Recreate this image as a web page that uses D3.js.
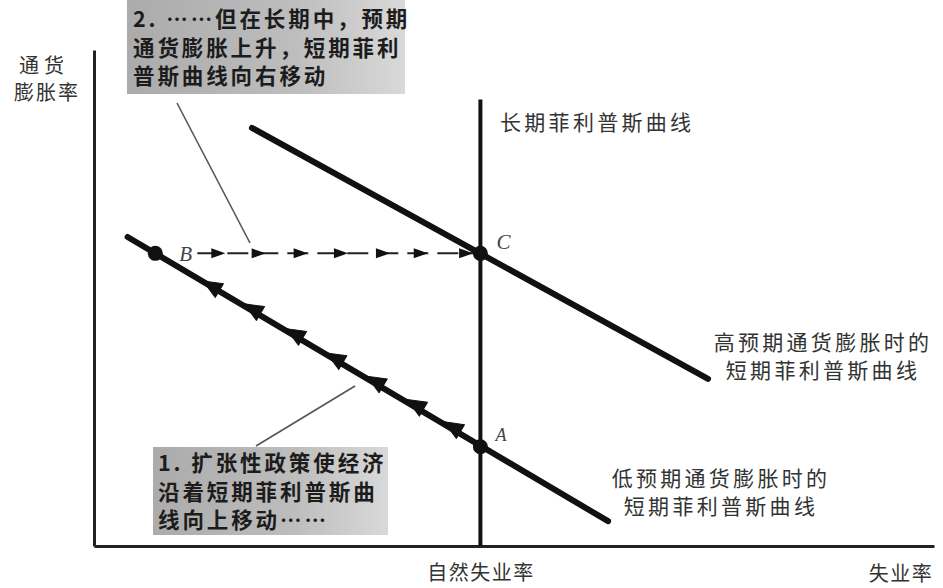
<!DOCTYPE html>
<html><head><meta charset="utf-8">
<script src="https://cdn.jsdelivr.net/npm/d3@7"></script>
<style>body{margin:0;background:#fff}svg{display:block}</style>
</head><body><svg id="c" width="943" height="588"></svg>
<script>
// ---- data (abstract units: unemployment u, inflation p, both 0..100) ----
const uDomain = [0, 100];
const pDomain = [0, 100];
const naturalRate = 46;
const lrpcTop = 90;
const lowSRPC = [{u: 4, p: 62.3}, {u: 61.2, p: 5}];
const highSRPC = [{u: 18.8, p: 84.3}, {u: 73.1, p: 33.7}];
const pointNames = ["B", "C", "A"];
const pointU = [7.3, 46, 46];
const pointP = [59, 59, 20];
const dashPath = [{u: 12.3, p: 59}, {u: 45.3, p: 59}];
const dashArrowU = [14.8, 19.6, 24.6, 29.4, 34.4, 38.9, 44.3];
const moveArrowU = [14.0, 18.9, 23.9, 28.7, 33.5, 38.3, 42.7];
const moveArrowP = [52.4, 47.8, 42.8, 37.9, 33.2, 28.5, 24.0];
const xTickLabels = ["自然失业率"];
const yLabelLines = ["通货", "膨胀率"];
const note2Lines = ["2. ……但在长期中，预期", "通货膨胀上升，短期菲利", "普斯曲线向右移动"];
const note1Lines = ["1. 扩张性政策使经济", "沿着短期菲利普斯曲", "线向上移动……"];
const highLabel = ["高预期通货膨胀时的", "短期菲利普斯曲线"];
const lowLabel = ["低预期通货膨胀时的", "短期菲利普斯曲线"];
const lrpcLabel = "长期菲利普斯曲线";
const xAxisTitle = "失业率";

// ---- drawing ----
const svg = d3.select("#c");
const x = d3.scaleLinear().domain(uDomain).range([94, 934]);
const y = d3.scaleLinear().domain(pDomain).range([546, 50]);
const CJK = "'Noto Sans CJK SC', 'Noto Sans', sans-serif";
const line = d3.line().x(d => x(d.u)).y(d => y(d.p));

// gradient for annotation boxes
const defs = svg.append("defs");
const g1 = defs.append("linearGradient").attr("id", "gbox").attr("x1", 0).attr("x2", 1).attr("y1", 0).attr("y2", 0);
g1.append("stop").attr("offset", "0%").attr("stop-color", "#ababab");
g1.append("stop").attr("offset", "60%").attr("stop-color", "#bdbdbd");
g1.append("stop").attr("offset", "100%").attr("stop-color", "#d9d9d9");

// annotation boxes
function noteBox(lines, x0, y0, w, h, tx, centers) {
  svg.append("rect").attr("x", x0).attr("y", y0).attr("width", w).attr("height", h)
    .attr("fill", "url(#gbox)");
  lines.forEach((t, i) => {
    svg.append("text").attr("x", tx).attr("y", centers[i] + 8)
      .attr("font-family", CJK).attr("font-size", 21.5).attr("font-weight", "bold")
      .attr("letter-spacing", 2.9).attr("fill", "#1c1c1c").text(t);
  });
}
noteBox(note2Lines, 127, 0, 278, 94, 133, [19, 47.5, 76]);
noteBox(note1Lines, 153, 447, 235, 88, 158, [463, 491.5, 520]);

// leader lines
svg.append("line").attr("x1", 177).attr("y1", 103).attr("x2", 250).attr("y2", 243)
  .attr("stroke", "#555").attr("stroke-width", 1.6);
svg.append("line").attr("x1", 355).attr("y1", 386).attr("x2", 256).attr("y2", 446)
  .attr("stroke", "#555").attr("stroke-width", 1.6);

// axes
const xAxis = d3.axisBottom(x).tickValues([naturalRate]).tickFormat((d, i) => xTickLabels[i])
  .tickSize(0).tickSizeOuter(0).tickPadding(0);
const gx = svg.append("g").attr("transform", `translate(0,${y(0)})`).call(xAxis);
gx.select(".domain").attr("stroke", "#222").attr("stroke-width", 3);
gx.selectAll(".tick text").attr("font-family", CJK).attr("font-size", 20)
  .attr("letter-spacing", 1.5).attr("fill", "#333").attr("y", 34).attr("dy", 0);
const yAxis = d3.axisLeft(y).tickValues([]).tickSizeOuter(0);
const gy = svg.append("g").attr("transform", `translate(${x(0)},0)`).call(yAxis);
gy.select(".domain").attr("stroke", "#222").attr("stroke-width", 3);

svg.append("text").attr("x", 901).attr("y", 581).attr("text-anchor", "middle")
  .attr("font-family", CJK).attr("font-size", 20).attr("letter-spacing", 1.5)
  .attr("fill", "#333").text(xAxisTitle);
svg.append("text").attr("x", 44).attr("y", 73).attr("text-anchor", "middle")
  .attr("font-family", CJK).attr("font-size", 20).attr("letter-spacing", 5)
  .attr("fill", "#333").text(yLabelLines[0]);
svg.append("text").attr("x", 47).attr("y", 100).attr("text-anchor", "middle")
  .attr("font-family", CJK).attr("font-size", 20).attr("letter-spacing", 2)
  .attr("fill", "#333").text(yLabelLines[1]);

// long-run Phillips curve
svg.append("line").attr("x1", x(naturalRate)).attr("x2", x(naturalRate))
  .attr("y1", y(0)).attr("y2", y(lrpcTop)).attr("stroke", "#111").attr("stroke-width", 4);
svg.append("text").attr("x", 500).attr("y", 130)
  .attr("font-family", CJK).attr("font-size", 21).attr("letter-spacing", 3.3)
  .attr("fill", "#333").text(lrpcLabel);

// short-run curves
svg.append("path").attr("d", line(highSRPC)).attr("fill", "none")
  .attr("stroke", "#111").attr("stroke-width", 6).attr("stroke-linecap", "round");
svg.append("path").attr("d", line(lowSRPC)).attr("fill", "none")
  .attr("stroke", "#111").attr("stroke-width", 6).attr("stroke-linecap", "round");

function twoLine(lines, cx, c1, c2) {
  [c1, c2].forEach((c, i) => {
    svg.append("text").attr("x", cx).attr("y", c + 8).attr("text-anchor", "middle")
      .attr("font-family", CJK).attr("font-size", 21).attr("letter-spacing", 3.3)
      .attr("fill", "#333").text(lines[i]);
  });
}
twoLine(highLabel, 823, 342, 370);
twoLine(lowLabel, 721, 478, 506);

// dashed move B -> C
svg.append("path").attr("d", line(dashPath)).attr("fill", "none")
  .attr("stroke", "#222").attr("stroke-width", 2).attr("stroke-dasharray", "21 9");
dashArrowU.forEach(u => {
  const px = x(u), py = y(dashPath[0].p);
  svg.append("path").attr("d", `M${px + 7},${py} L${px - 7},${py - 5} L${px - 7},${py + 5} Z`)
    .attr("fill", "#111");
});

// arrows along low SRPC (pointing up-left)
const ang = Math.atan2(y(lowSRPC[0].p) - y(lowSRPC[1].p), x(lowSRPC[0].u) - x(lowSRPC[1].u)) * 180 / Math.PI;
moveArrowU.forEach((u, i) => {
  svg.append("path").attr("d", "M10,0 L-9,-8 L-9,8 Z")
    .attr("transform", `translate(${x(u)},${y(moveArrowP[i])}) rotate(${ang})`)
    .attr("fill", "#111").attr("stroke", "#111").attr("stroke-width", 1).attr("stroke-linejoin", "round");
});

// points
pointNames.forEach((n, i) => {
  svg.append("circle").attr("cx", x(pointU[i])).attr("cy", y(pointP[i])).attr("r", 7.5).attr("fill", "#111");
});
const labelOff = {B: [24, 8], C: [16, -4], A: [15, -6]};
pointNames.forEach((n, i) => {
  svg.append("text").attr("x", x(pointU[i]) + labelOff[n][0]).attr("y", y(pointP[i]) + labelOff[n][1])
    .attr("font-family", "'Liberation Serif', serif").attr("font-style", "italic")
    .attr("font-size", n === "A" ? 18 : 21).attr("fill", "#444").text(n);
});
</script></body></html>
